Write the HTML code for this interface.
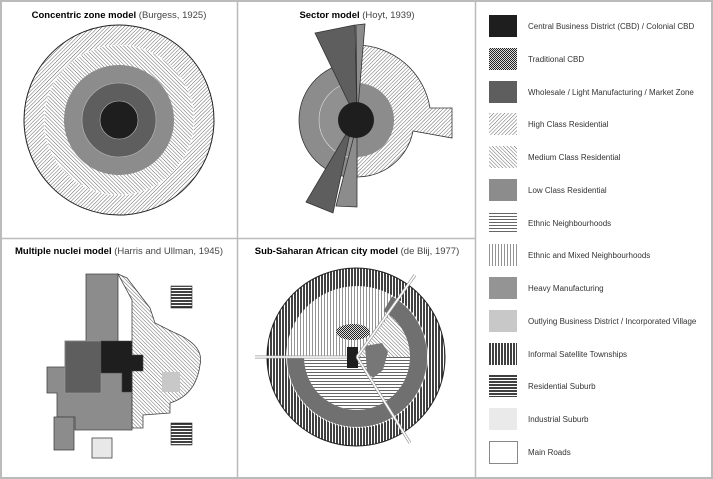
<!DOCTYPE html>
<html><head><meta charset="utf-8"><style>
html,body{margin:0;padding:0;background:#fff}
svg{display:block}
text{font-family:"Liberation Sans",Arial,sans-serif}
</style></head><body>
<svg width="713" height="479" viewBox="0 0 713 479" xmlns="http://www.w3.org/2000/svg">
<defs>
<pattern id="hi" width="2.6" height="2.6" patternUnits="userSpaceOnUse" patternTransform="rotate(45)"><rect width="3" height="3" fill="#fff"/><line x1="0" y1="0" x2="0" y2="3" stroke="#555" stroke-width="0.9"/></pattern>
<pattern id="md" width="2.6" height="2.6" patternUnits="userSpaceOnUse" patternTransform="rotate(-45)"><rect width="3" height="3" fill="#fff"/><line x1="0" y1="0" x2="0" y2="3" stroke="#555" stroke-width="0.9"/></pattern>
<pattern id="hz" width="3" height="3" patternUnits="userSpaceOnUse"><rect width="3" height="3" fill="#fff"/><line x1="0" y1="0.5" x2="3" y2="0.5" stroke="#555" stroke-width="0.9"/></pattern>
<pattern id="vl" width="3" height="3" patternUnits="userSpaceOnUse"><rect width="3" height="3" fill="#fff"/><line x1="0.5" y1="0" x2="0.5" y2="3" stroke="#888" stroke-width="0.9"/></pattern>
<pattern id="vd" width="3" height="3" patternUnits="userSpaceOnUse"><rect width="3" height="3" fill="#fff"/><line x1="1" y1="0" x2="1" y2="3" stroke="#111" stroke-width="1.6"/></pattern>
<pattern id="hd" width="3" height="3" patternUnits="userSpaceOnUse"><rect width="3" height="3" fill="#fff"/><line x1="0" y1="1" x2="3" y2="1" stroke="#111" stroke-width="1.6"/></pattern>
<pattern id="dt" width="2" height="2" patternUnits="userSpaceOnUse"><rect width="2" height="2" fill="#ddd"/><rect width="1" height="1" fill="#222"/><rect x="1" y="1" width="1" height="1" fill="#222"/></pattern>
</defs>
<rect x="1" y="1" width="711" height="477" fill="#fff" stroke="#bbb" stroke-width="2"/>
<line x1="237.5" y1="2" x2="237.5" y2="477" stroke="#bbb" stroke-width="1.5"/>
<line x1="475.5" y1="2" x2="475.5" y2="477" stroke="#bbb" stroke-width="1.5"/>
<line x1="2" y1="238.5" x2="475" y2="238.5" stroke="#bbb" stroke-width="1.5"/>

<text x="119" y="18" font-size="9.5" text-anchor="middle"><tspan font-weight="bold">Concentric zone model</tspan><tspan fill="#444"> (Burgess, 1925)</tspan></text>
<text x="357" y="18" font-size="9.5" text-anchor="middle"><tspan font-weight="bold">Sector model</tspan><tspan fill="#444"> (Hoyt, 1939)</tspan></text>
<text x="119" y="254" font-size="9.5" text-anchor="middle"><tspan font-weight="bold">Multiple nuclei model</tspan><tspan fill="#444"> (Harris and Ullman, 1945)</tspan></text>
<text x="357" y="254" font-size="9.5" text-anchor="middle"><tspan font-weight="bold">Sub-Saharan African city model</tspan><tspan fill="#444"> (de Blij, 1977)</tspan></text>

<circle cx="119" cy="120" r="95" fill="url(#hi)" stroke="#222" stroke-width="1"/>
<circle cx="119" cy="120" r="75" fill="url(#md)" stroke="#fff" stroke-width="0.6"/>
<circle cx="119" cy="120" r="55" fill="#8c8c8c"/>
<circle cx="119" cy="120" r="37" fill="#5e5e5e" stroke="#bbb" stroke-width="0.6"/>
<circle cx="119" cy="120" r="19" fill="#1e1e1e" stroke="#bbb" stroke-width="0.6"/>

<path d="M357,120 L357,62 A58 58 0 0 0 357,178 Z" fill="#8c8c8c" stroke="#333" stroke-width="0.8"/>
<path d="M357,120 L357,82 A38 38 0 0 0 357,158 Z" fill="#909090" stroke="#ddd" stroke-width="0.6"/>
<path d="M357,120 L357,45 A75 75 0 0 1 430,108 L452,108 L452,138 L413,131 A57 57 0 0 1 357,177 Z" fill="url(#hi)" stroke="#333" stroke-width="0.8"/>
<path d="M357,120 L357,83 A37 37 0 0 1 357,157 Z" fill="#8c8c8c"/>
<path d="M357,120 L315,33 L355,25 Z" fill="#5e5e5e" stroke="#333" stroke-width="0.8"/>
<path d="M357,120 L356,25 L365,24 Z" fill="#8c8c8c" stroke="#333" stroke-width="0.8"/>
<path d="M352,124 L306,202 L333,213 Z" fill="#5e5e5e" stroke="#333" stroke-width="0.8"/>
<path d="M357,124 L336,206 L357,207 Z" fill="#8c8c8c" stroke="#333" stroke-width="0.8"/>
<circle cx="356" cy="120" r="18" fill="#1e1e1e"/>

<path d="M118,274 L127,278 L150,308 L155,323 L173,332 Q205,345 200,365 Q196,395 170,403 L170,413 L143,415 L143,428 L132,428 L132,300 Z" fill="url(#md)" stroke="#444" stroke-width="0.8"/>
<path d="M86,274 L118,274 L118,355 L132,355 L132,430 L75,430 L75,417 L57,417 L57,393 L47,393 L47,367 L65,367 L65,341 L86,341 Z" fill="#8c8c8c" stroke="#444" stroke-width="0.8"/>
<rect x="65" y="341" width="36" height="52" fill="#5e5e5e" stroke="#999" stroke-width="0.6"/>
<path d="M101,341 L132,341 L132,355 L143,355 L143,371 L132,371 L132,392 L122,392 L122,373 L101,373 Z" fill="#1e1e1e" stroke="#444" stroke-width="0.6"/>
<rect x="54" y="417" width="20" height="33" fill="#8c8c8c" stroke="#444" stroke-width="0.8"/>
<rect x="92" y="438" width="20" height="20" fill="#e8e8e8" stroke="#444" stroke-width="0.8"/>
<rect x="162" y="372" width="18" height="20" fill="#c8c8c8"/>
<rect x="171" y="286" width="21" height="22" fill="url(#hd)" stroke="#333" stroke-width="0.6"/>
<rect x="171" y="423" width="21" height="22" fill="url(#hd)" stroke="#333" stroke-width="0.6"/>

<circle cx="356" cy="357" r="89" fill="url(#vd)" stroke="#222" stroke-width="1"/>
<circle cx="357" cy="357" r="71" fill="url(#vl)"/>
<path d="M357,357 L304,357 A53 53 0 1 0 389.6,315.2 Z" fill="url(#hz)"/>
<path d="M389.6,315.2 L357,357 L410,357 A53 53 0 0 0 389.6,315.2 Z" fill="url(#md)"/>
<path d="M387.8,303.7 A61.5 61.5 0 1 1 295.5,357" fill="none" stroke="#707070" stroke-width="17"/>
<ellipse cx="353" cy="332" rx="17" ry="8" fill="url(#dt)"/>
<path d="M365,346 L382,343 L388,352 L383,370 L373,378 L367,372 Z" fill="#777"/>
<rect x="347" y="347" width="11" height="21" fill="#1e1e1e"/>
<g stroke="#999" stroke-width="3" fill="none"><path d="M255,357 L347,357 M357,357 L415,275 M357,357 L410,443"/></g>
<g stroke="#fff" stroke-width="1.6" fill="none"><path d="M255,357 L347,357 M357,357 L415,275 M357,357 L410,443"/></g>

<g font-size="8" fill="#333">
<rect x="489" y="15" width="28" height="22" fill="#1e1e1e"/><text x="528" y="29">Central Business District (CBD) / Colonial CBD</text>
<rect x="489" y="48" width="28" height="22" fill="url(#dt)"/><text x="528" y="62">Traditional CBD</text>
<rect x="489" y="81" width="28" height="22" fill="#5e5e5e"/><text x="528" y="95">Wholesale / Light Manufacturing / Market Zone</text>
<rect x="489" y="113" width="28" height="22" fill="url(#hi)"/><text x="528" y="127">High Class Residential</text>
<rect x="489" y="146" width="28" height="22" fill="url(#md)"/><text x="528" y="160">Medium Class Residential</text>
<rect x="489" y="179" width="28" height="22" fill="#8c8c8c"/><text x="528" y="193">Low Class Residential</text>
<rect x="489" y="212" width="28" height="22" fill="url(#hz)"/><text x="528" y="226">Ethnic Neighbourhoods</text>
<rect x="489" y="244" width="28" height="22" fill="url(#vl)"/><text x="528" y="258">Ethnic and Mixed Neighbourhoods</text>
<rect x="489" y="277" width="28" height="22" fill="#949494"/><text x="528" y="291">Heavy Manufacturing</text>
<rect x="489" y="310" width="28" height="22" fill="#c8c8c8"/><text x="528" y="324">Outlying Business District / Incorporated Village</text>
<rect x="489" y="343" width="28" height="22" fill="url(#vd)"/><text x="528" y="357">Informal Satellite Townships</text>
<rect x="489" y="375" width="28" height="22" fill="url(#hd)"/><text x="528" y="389">Residential Suburb</text>
<rect x="489" y="408" width="28" height="22" fill="#eaeaea"/><text x="528" y="422">Industrial Suburb</text>
<rect x="489.5" y="441.5" width="28" height="22" fill="#fff" stroke="#888"/><text x="528" y="455">Main Roads</text>
</g>
</svg>
</body></html>
